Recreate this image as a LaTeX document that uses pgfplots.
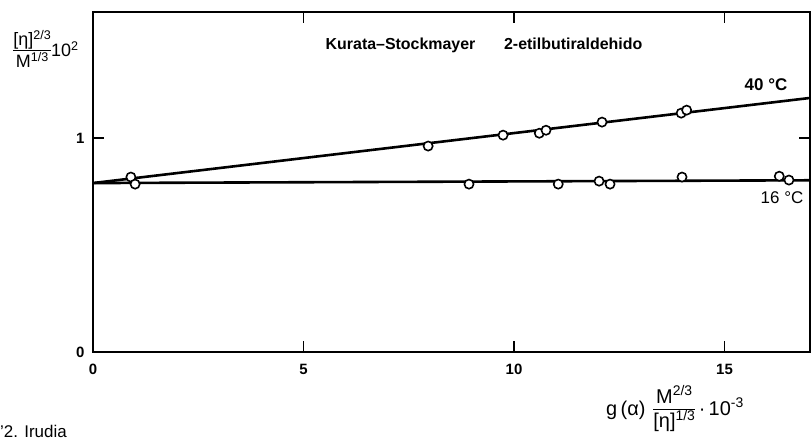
\documentclass[border=0pt]{standalone}
\usepackage{pgfplots}
\pgfplotsset{compat=1.18}
\usepackage{fontspec}
\setmainfont{Liberation Sans}
\begin{document}
\begin{tikzpicture}[x=1bp,y=1bp]
\path[use as bounding box] (0,0) rectangle (812,440);
\begin{axis}[
  at={(93bp,88bp)}, anchor=south west,
  scale only axis, width=717bp, height=340bp,
  xmin=0, xmax=17.03, ymin=0, ymax=1.59,
  axis line style={line width=2bp},
  xtick={0,5,10,15}, ytick={0,1},
  xticklabels={0,5,10,15},
  tick align=inside, major tick length=11bp,
  tick style={line width=1.8bp, black},
  /pgf/number format/assume math mode=true,
  tick label style={font=\bfseries\fontsize{15}{15}\selectfont},
  xticklabel style={yshift=-9bp},
  yticklabel style={xshift=-5bp},
  clip=false,
]
\addplot[black, line width=2.6bp] coordinates {(0,0.79) (17.03,1.188)};
\addplot[black, line width=2.6bp] coordinates {(0,0.79) (17.03,0.803)};
\addplot[only marks, mark=*, mark size=4.6bp, mark options={fill=white, draw=black, line width=1.6bp}] coordinates {
 (0.9,0.818) (7.96,0.963) (9.74,1.014) (10.6,1.023) (10.76,1.037) (12.09,1.075) (13.97,1.117) (14.1,1.131)
};
\addplot[only marks, mark=*, mark size=4.6bp, mark options={fill=white, draw=black, line width=1.6bp}] coordinates {
 (1.0,0.785) (8.93,0.785) (11.05,0.785) (12.02,0.799) (12.28,0.785) (13.99,0.818) (16.3,0.822) (16.53,0.804)
};
\end{axis}
\node[font=\bfseries\fontsize{16}{18}\selectfont] at (484,395) {Kurata–Stockmayer\hspace{1.8em}2-etilbutiraldehido};
\node[font=\bfseries\fontsize{17}{19}\selectfont] at (766,355) {40 °C};
\node[font=\fontsize{17}{19}\selectfont] at (782,242) {16 °C};
\node[font=\fontsize{18}{20}\selectfont, inner sep=0pt] at (46,388) {\renewcommand{\arraystretch}{1.0}\setlength{\tabcolsep}{0pt}\begin{tabular}{c}[η]\textsuperscript{2/3}\\[-1pt]\hline\rule{0pt}{17pt}M\textsuperscript{1/3}\end{tabular}10\textsuperscript{2}};
\node[font=\fontsize{20}{22}\selectfont, inner sep=0pt] at (675,30) {g\,(α)\hspace{0.4em}\renewcommand{\arraystretch}{1.0}\setlength{\tabcolsep}{0pt}\begin{tabular}{c}M\textsuperscript{2/3}\\[-1pt]\hline\rule{0pt}{19pt}[η]\textsuperscript{1/3}\end{tabular}\,·\,10\textsuperscript{-3}};
\node[font=\fontsize{17}{19}\selectfont, anchor=west, inner sep=0pt] at (0,9) {'2. Irudia};
\end{tikzpicture}
\end{document}
